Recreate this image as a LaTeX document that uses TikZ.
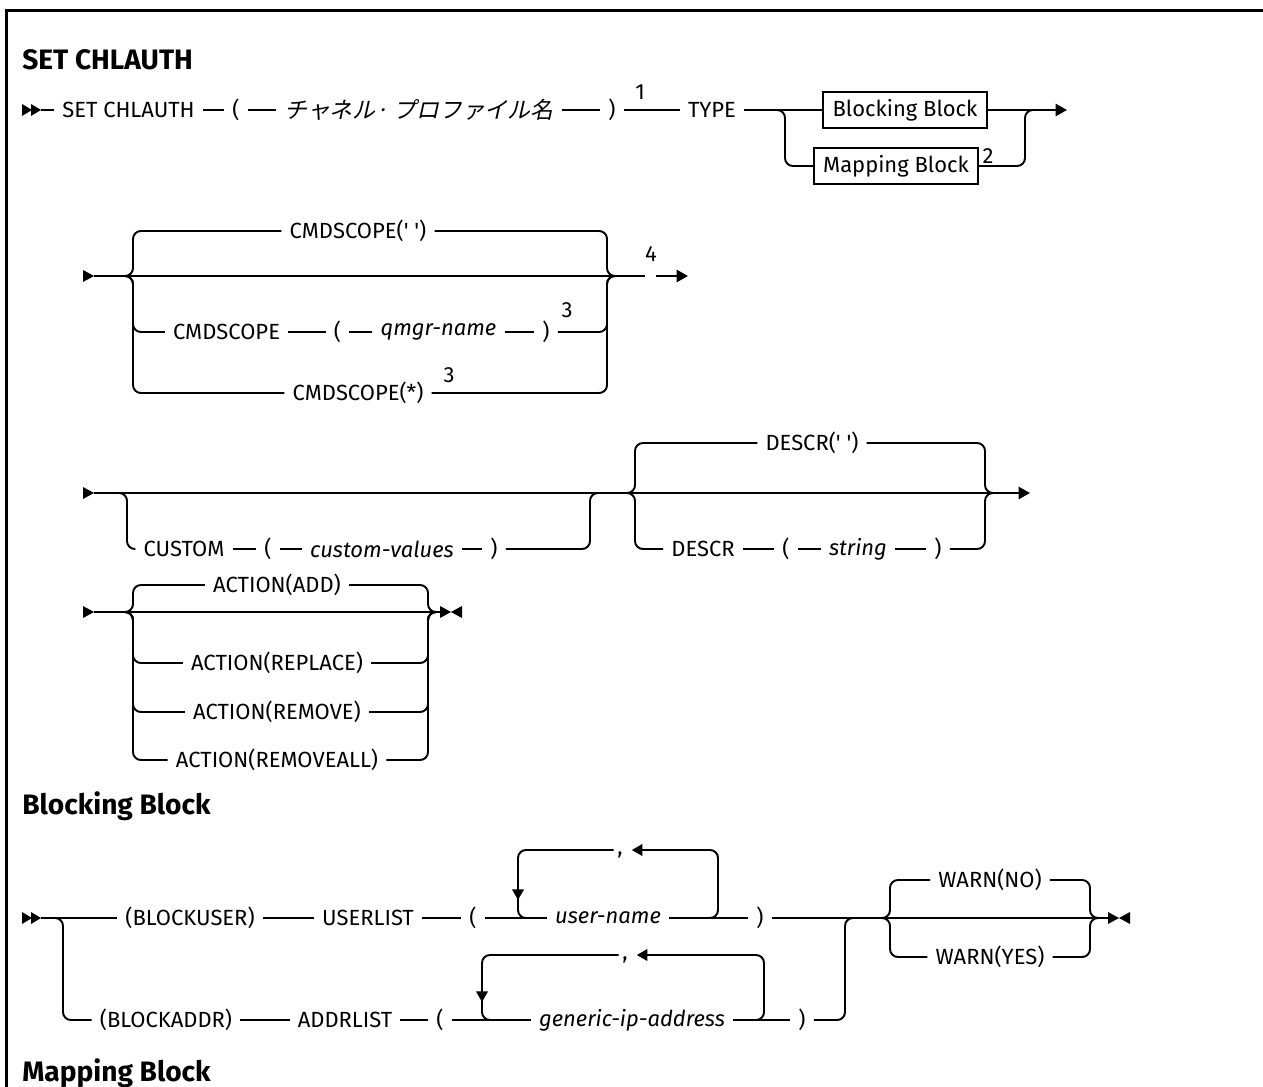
\documentclass[tikz,border=0pt]{standalone}
\usepackage{fontspec}
\setmainfont{Fira Sans}[Ligatures=TeXOff]
\newfontfamily\jpfont[FakeSlant=0.22]{Noto Sans CJK JP}
\usetikzlibrary{arrows.meta,calc,positioning}
\newcommand{\txtsize}{\fontsize{12.5}{15}\selectfont}
\tikzset{
  rail/.style={line width=1.1pt},
  branch/.style={rail, rounded corners=4.5pt},
  kw/.style={font=\txtsize, inner xsep=4.5pt, inner ysep=1pt},
  var/.style={kw, font=\txtsize\itshape},
  fnote/.style={font=\txtsize, inner sep=0pt, anchor=south},
  sepmark/.style={font=\txtsize, inner xsep=2pt, inner ysep=0pt, anchor=base},
  blockref/.style={draw, line width=1.1pt, font=\txtsize, minimum width=93pt,
                   minimum height=21pt, inner xsep=5pt},
  hdr/.style={font=\fontsize{16}{19}\selectfont\bfseries, anchor=west, inner sep=0pt},
  arrowend/.style={rail, -{Triangle[length=6.5pt,width=7pt]}},
  looptip/.style={branch, -{Triangle[length=6pt,width=6.5pt]}},
}
% terminators: >> start, > continue, >< stop
\newcommand{\startmark}[1]{%
  \fill (#1) ++(0,-6) -- ++(10,6) -- ++(-10,6) -- cycle;
  \fill (#1) ++(9,-6) -- ++(10,6) -- ++(-10,6) -- cycle;}
\newcommand{\contmark}[1]{\fill (#1) ++(0,-6) -- ++(11,6) -- ++(-11,6) -- cycle;}
\newcommand{\stopmark}[1]{%
  \fill (#1) ++(0,-6) -- ++(11,6) -- ++(-11,6) -- cycle;
  \fill (#1) ++(22,-6) -- ++(-11,6) -- ++(11,6) -- cycle;}

\begin{document}
\begin{tikzpicture}[x=0.02cm, y=-0.02cm]
  \useasboundingbox (0,0) rectangle (1263,1087);
  \draw[line width=1.7pt] (6.5,1087) -- (6.5,11) -- (1263,11);

  \node[hdr] (ttl) at (22,60) {SET CHLAUTH};

  % ---- row 1: command and TYPE
  \def\ya{110}
  \startmark{22,\ya}
  \coordinate (st1) at (41,\ya);
  \node[kw] (cmd) at (128.5,\ya) {SET CHLAUTH};
  \node[kw] (lp1) at (236,\ya) {(};
  \node[kw, font=\jpfont\fontsize{13}{16}\selectfont] (jp) at (419,\ya) {チャネル· プロファイル名};
  \node[kw] (rp1) at (612,\ya) {)};
  \node[fnote] (n1) at (640,\ya-10) {1};
  \node[kw] (type) at (712,\ya) {TYPE};
  \node[blockref] (blk) at (905,\ya) {Blocking Block};
  \node[blockref] (map) at (896,166) {Mapping Block};
  \node[fnote] (n2) at (988,164) {2};
  \coordinate (sp1) at (785,\ya);
  \coordinate (jn1) at (1025,\ya);
  \coordinate (e1) at (1067,\ya);
  \draw[rail] (st1) -- (cmd) -- (lp1) -- (jp) -- (rp1) -- (type) -- (blk);
  \draw[arrowend] (blk) -- (e1);
  \draw[branch] ($(sp1)+(-14,0)$) -- (sp1) |- (map.west);
  \draw[branch] (map.east) -| (jn1) -- ($(jn1)+(14,0)$);

  % ---- row 2: CMDSCOPE
  \def\yb{276}
  \contmark{83,\yb}
  \coordinate (st2) at (94,\yb);
  \coordinate (sp2) at (133,\yb);
  \coordinate (jn2) at (607,\yb);
  \coordinate (g2) at (645,\yb);
  \coordinate (g2b) at (656,\yb);
  \coordinate (e2) at (688,\yb);
  \node[kw] (cs1) at (358,231) {CMDSCOPE(' ')};
  \node[kw] (cs2) at (226.5,332) {CMDSCOPE};
  \node[kw] (lp2) at (337.5,332) {(};
  \node[var] (qm) at (438.5,332) {qmgr-name};
  \node[kw] (rp2) at (546,332) {)};
  \node[fnote] (n3a) at (567,318) {3};
  \node[kw] (cs3) at (358,393) {CMDSCOPE(*)};
  \node[fnote] (n3b) at (449,383) {3};
  \node[fnote] (n4) at (651,262) {4};
  \draw[rail] (st2) -- (g2);
  \draw[arrowend] (g2b) -- (e2);
  \draw[branch] ($(sp2)+(-12,0)$) -- (sp2) |- (cs1.west);
  \draw[branch] (cs1.east) -| (jn2) -- ($(jn2)+(12,0)$);
  \draw[branch] ($(sp2)+(-12,0)$) -- (sp2) |- (cs2.west);
  \draw[rail] (cs2) -- (lp2) -- (qm) -- (rp2);
  \draw[branch] (rp2.east) -| (jn2) -- ($(jn2)+(12,0)$);
  \draw[branch] ($(sp2)+(-12,0)$) -- (sp2) |- (cs3.west);
  \draw[branch] (cs3.east) -| (jn2) -- ($(jn2)+(12,0)$);

  % ---- row 3: CUSTOM, DESCR
  \def\yc{493}
  \contmark{83,\yc}
  \coordinate (st3) at (94,\yc);
  \coordinate (sp3) at (127,\yc);
  \coordinate (jn3) at (590,\yc);
  \coordinate (sp4) at (635,\yc);
  \coordinate (jn4) at (985,\yc);
  \coordinate (e3) at (1030,\yc);
  \node[kw] (cu) at (184,549) {CUSTOM};
  \node[kw] (lp3) at (268,549) {(};
  \node[var] (cv) at (382,549) {custom-values};
  \node[kw] (rp3) at (494,549) {)};
  \node[kw] (dsd) at (812,443) {DESCR(' ')};
  \node[kw] (ds) at (703,549) {DESCR};
  \node[kw] (lp4) at (786,549) {(};
  \node[var] (sg) at (858,549) {string};
  \node[kw] (rp4) at (938,549) {)};
  \draw[arrowend] (st3) -- (e3);
  \draw[branch] ($(sp3)+(-12,0)$) -- (sp3) |- (cu.west);
  \draw[rail] (cu) -- (lp3) -- (cv) -- (rp3);
  \draw[branch] (rp3.east) -| (jn3) -- ($(jn3)+(12,0)$);
  \draw[branch] ($(sp4)+(-12,0)$) -- (sp4) |- (dsd.west);
  \draw[branch] (dsd.east) -| (jn4) -- ($(jn4)+(12,0)$);
  \draw[branch] ($(sp4)+(-12,0)$) -- (sp4) |- (ds.west);
  \draw[rail] (ds) -- (lp4) -- (sg) -- (rp4);
  \draw[branch] (rp4.east) -| (jn4) -- ($(jn4)+(12,0)$);

  % ---- row 4: ACTION
  \def\yd{612}
  \contmark{83,\yd}
  \coordinate (st4) at (94,\yd);
  \coordinate (sp5) at (133,\yd);
  \coordinate (jn5) at (428,\yd);
  \coordinate (e4) at (440,\yd);
  \node[kw] (add) at (277,585) {ACTION(ADD)};
  \node[kw] (rpl) at (277,663) {ACTION(REPLACE)};
  \node[kw] (rmv) at (277,712) {ACTION(REMOVE)};
  \node[kw] (rma) at (277,760) {ACTION(REMOVEALL)};
  \draw[rail] (st4) -- (e4);
  \stopmark{440,\yd}
  \foreach \a in {add,rpl,rmv,rma}{
    \draw[branch] ($(sp5)+(-12,0)$) -- (sp5) |- (\a.west);
    \draw[branch] (\a.east) -| (jn5) -- ($(jn5)+(12,0)$);
  }

  \node[hdr] (hblk) at (22,806) {Blocking Block};

  % ---- row 5: blocking block
  \def\ye{918}
  \def\yf{1020}
  \startmark{22,\ye}
  \coordinate (st5) at (41,\ye);
  \coordinate (sp6) at (63,\ye);
  \coordinate (jA) at (845,\ye);
  \coordinate (sp7) at (890,\ye);
  \coordinate (jn7) at (1090,\ye);
  \coordinate (e5) at (1108,\ye);
  \coordinate (lt1) at (620,850);
  \coordinate (lt2) at (625,955);
  \node[kw] (bu) at (190,\ye) {(BLOCKUSER)};
  \node[kw] (ul) at (368,\ye) {USERLIST};
  \node[kw] (lpu) at (473,\ye) {(};
  \node[var] (un) at (608,\ye) {user-name};
  \node[kw] (rpu) at (760,\ye) {)};
  \node[kw] (ba) at (166,\yf) {(BLOCKADDR)};
  \node[kw] (al) at (345,\yf) {ADDRLIST};
  \node[kw] (lpa) at (440,\yf) {(};
  \node[var] (gip) at (632,\yf) {generic-ip-address};
  \node[kw] (rpa) at (802,\yf) {)};
  \node[sepmark] (cm1) at ($(lt1)+(0,4)$) {,};
  \node[sepmark] (cm2) at ($(lt2)+(0,4)$) {,};
  \node[kw] (wno) at (990,880) {WARN(NO)};
  \node[kw] (wys) at (990,957) {WARN(YES)};
  \draw[rail] (st5) -- (bu) -- (ul) -- (lpu) -- (un) -- (rpu);
  \draw[rail] (rpu) -- (e5);
  \stopmark{1108,\ye}
  \draw[branch] ($(sp6)+(-12,0)$) -- (sp6) |- (ba.west);
  \draw[rail] (ba) -- (al) -- (lpa) -- (gip) -- (rpa);
  \draw[branch] (rpa.east) -| (jA) -- ($(jA)+(12,0)$);
  % repeat loops
  \draw[looptip] (706,\ye) -- (718,\ye) |- ([xshift=3pt]cm1.east |- lt1);
  \draw[looptip] (cm1.west |- lt1) -| (518,900);
  \draw[branch] (518,898) |- (530,\ye);
  \draw[looptip] (752,\yf) -- (764,\yf) |- ([xshift=3pt]cm2.east |- lt2);
  \draw[looptip] (cm2.west |- lt2) -| (482,1002);
  \draw[branch] (482,1000) |- (494,\yf);
  % WARN
  \draw[branch] ($(sp7)+(-12,0)$) -- (sp7) |- (wno.west);
  \draw[branch] (wno.east) -| (jn7) -- ($(jn7)+(12,0)$);
  \draw[branch] ($(sp7)+(-12,0)$) -- (sp7) |- (wys.west);
  \draw[branch] (wys.east) -| (jn7) -- ($(jn7)+(12,0)$);

  \node[hdr] (hmap) at (22,1073) {Mapping Block};
\end{tikzpicture}
\end{document}
